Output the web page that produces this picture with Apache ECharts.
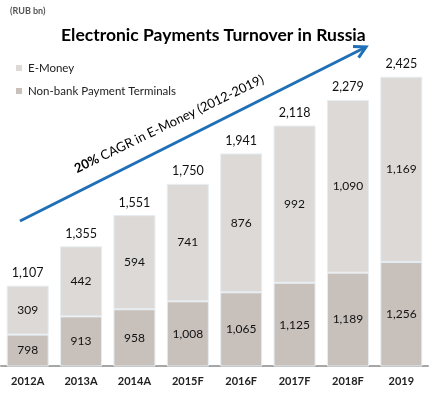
<!DOCTYPE html>
<html>
<head>
<meta charset="utf-8">
<script src="https://cdn.jsdelivr.net/npm/echarts@6/dist/echarts.min.js"></script>
<style>html,body{margin:0;padding:0;background:#fff;}#c{width:432px;height:393px;}</style>
</head>
<body>
<div id="c"></div>
<script>
var categories = ['2012A','2013A','2014A','2015F','2016F','2017F','2018F','2019'];
var nonBank = [798, 913, 958, 1008, 1065, 1125, 1189, 1256];
var eMoney = [309, 442, 594, 741, 876, 992, 1090, 1169];
var totals = [1107, 1355, 1551, 1750, 1941, 2118, 2279, 2425];

var FONT = 'Lato, "Open Sans", sans-serif';
var chart = echarts.init(document.getElementById('c'));

// arrow geometry
var tail = [20, 221], tip = [366, 47];
var dx = tail[0] - tip[0], dy = tail[1] - tip[1];
var L = Math.sqrt(dx*dx + dy*dy);
var ux = dx / L, uy = dy / L;
function wing(a) {
  var c = Math.cos(a), s = Math.sin(a), len = 13;
  return [tip[0] + len * (ux*c - uy*s), tip[1] + len * (ux*s + uy*c)];
}
var w1 = wing(0.5), w2 = wing(-0.5);

function fmt(v) { return v.toLocaleString('en-US'); }

chart.setOption({
  animation: false,
  textStyle: { fontFamily: FONT },
  title: {
    text: 'Electronic Payments Turnover in Russia',
    left: 56,
    top: 21,
    textStyle: { fontFamily: FONT, fontWeight: 'bold', fontSize: 17.5, color: '#000' }
  },
  legend: {
    orient: 'vertical',
    left: 11,
    top: 57,
    itemWidth: 6,
    itemHeight: 6,
    itemGap: 11,
    icon: 'rect',
    data: ['E-Money', 'Non-bank Payment Terminals'],
    itemStyle: { borderWidth: 0 },
    textStyle: { fontFamily: FONT, fontSize: 11.5, color: '#222', padding: [0, 0, 0, 1] }
  },
  grid: { left: 1, right: 4, top: 49, bottom: 27, containLabel: false },
  xAxis: {
    type: 'category',
    data: categories,
    axisTick: { show: false },
    axisLine: { lineStyle: { color: '#a6a6a6', width: 2 } },
    axisLabel: { fontFamily: FONT, fontWeight: 'bold', fontSize: 11, color: '#222', margin: 10 }
  },
  yAxis: {
    type: 'value', min: 600, max: 2600, show: false, splitLine: { show: false }
  },
  series: [
    {
      name: 'Non-bank Payment Terminals', type: 'bar', stack: 'a', barWidth: 42,
      data: nonBank,
      itemStyle: { color: '#c8c0bb', borderColor: '#e6edf2', borderWidth: 1 },
      label: { show: true, position: 'inside', fontFamily: FONT, fontSize: 12, color: '#111', formatter: function(p){ return fmt(p.value); } }
    },
    {
      name: 'E-Money', type: 'bar', stack: 'a', barWidth: 42,
      data: eMoney,
      itemStyle: { color: '#ddd9d6', borderColor: '#e6edf2', borderWidth: 1 },
      label: { show: true, position: 'inside', fontFamily: FONT, fontSize: 12, color: '#111', formatter: function(p){ return fmt(p.value); } }
    },
    {
      name: 'Total', type: 'bar', barWidth: 42, barGap: '-100%', z: 1, silent: true,
      data: totals,
      itemStyle: { color: 'rgba(0,0,0,0)' },
      label: { show: true, position: 'top', distance: 6, fontFamily: FONT, fontSize: 12.5, color: '#111', formatter: function(p){ return fmt(p.value); } }
    }
  ],
  graphic: [
    { type: 'text', left: 10, top: 7, style: { text: '(RUB bn)', font: 'bold 9px ' + FONT, fill: '#555' } },
    { type: 'polyline', z: 10, shape: { points: [tail, tip] }, style: { stroke: '#1f6fb6', lineWidth: 3, fill: null } },
    { type: 'polyline', z: 10, shape: { points: [w1, tip, w2] }, style: { stroke: '#1f6fb6', lineWidth: 3, fill: null, lineJoin: 'miter' } },
    { type: 'text', z: 10, x: 169, y: 124, rotation: 0.45,
      style: {
        text: '{b|20%} {n|CAGR in E-Money (2012-2019)}',
        align: 'center', verticalAlign: 'middle',
        rich: {
          b: { fontFamily: FONT, fontWeight: 'bold', fontSize: 13, fill: '#000' },
          n: { fontFamily: FONT, fontSize: 13, fill: '#000' }
        }
      }
    }
  ]
});
</script>
</body>
</html>
